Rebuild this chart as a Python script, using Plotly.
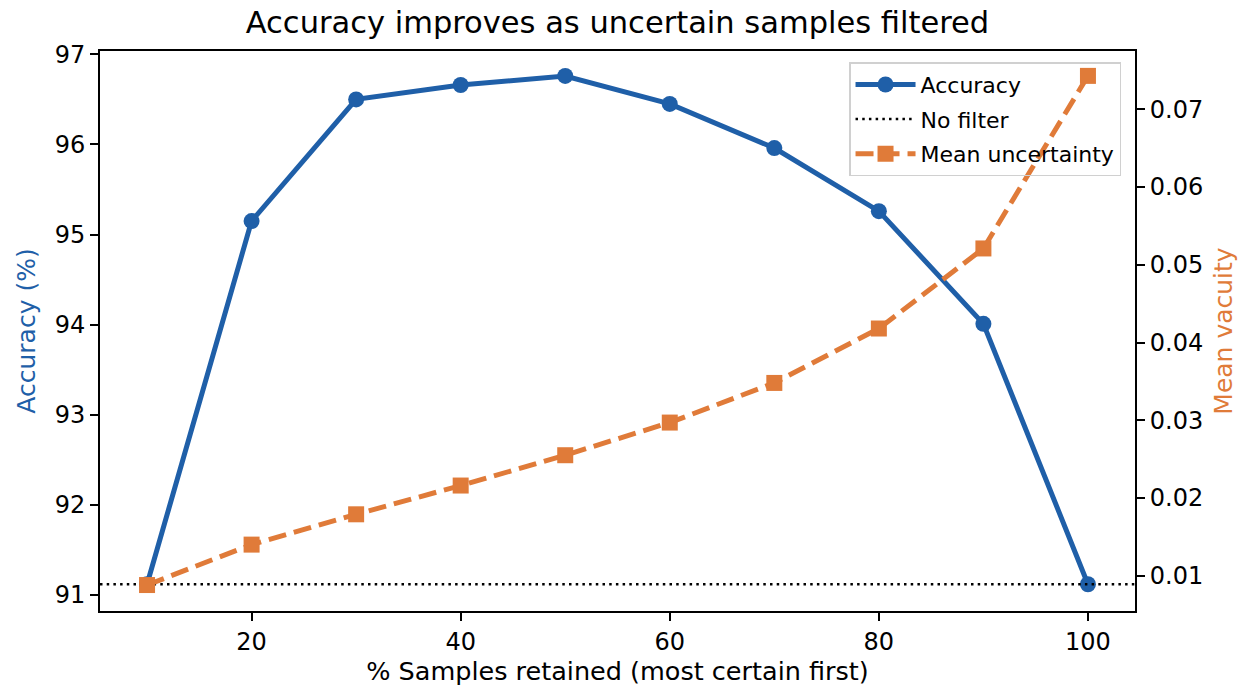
import plotly.graph_objects as go

retained = [10, 20, 30, 40, 50, 60, 70, 80, 90, 100]
accuracy = [91.12, 95.15, 96.50, 96.66, 96.76, 96.45, 95.96, 95.26, 94.01, 91.12]
uncertainty = [0.0088, 0.0140, 0.0179, 0.0216, 0.0255, 0.0297, 0.0348, 0.0418, 0.0521, 0.0743]
no_filter = 91.12

BLUE = "#1f5fa8"
ORANGE = "#e07b39"
FONT = "DejaVu Sans"

fig = go.Figure()
fig.add_trace(go.Scatter(
    x=retained, y=accuracy, mode="lines+markers", name="Accuracy", legendgroup="a",
    line=dict(color=BLUE, width=5), marker=dict(color=BLUE, size=16, symbol="circle"),
    yaxis="y"))
fig.add_trace(go.Scatter(
    x=[5.5, 104.5], y=[no_filter, no_filter], mode="lines", name="No filter", legendgroup="b",
    line=dict(color="black", width=2.5, dash="2.5px,4.2px"), yaxis="y"))
fig.add_trace(go.Scatter(
    x=retained, y=uncertainty, mode="lines+markers", name="Mean uncertainty", legendgroup="c",
    line=dict(color=ORANGE, width=5, dash="18px,8px"),
    marker=dict(color=ORANGE, size=16, symbol="square"),
    yaxis="y2"))

fig.update_layout(
    width=1246, height=686,
    margin=dict(l=100, r=111, t=51, b=75),
    plot_bgcolor="white", paper_bgcolor="white",
    font=dict(family=FONT, size=24, color="black"),
    title=dict(text="Accuracy improves as uncertain samples filtered",
               x=(100 + 1135) / 2 / 1246, xanchor="center",
               y=1 - 22 / 686, yanchor="middle",
               font=dict(family=FONT, size=30.5, color="black")),
    xaxis=dict(range=[5.5, 104.5], tickvals=[20, 40, 60, 80, 100], automargin=False,
               showline=True, linecolor="black", linewidth=2, mirror=True,
               ticks="outside", ticklen=8, tickwidth=2, tickcolor="black",
               showgrid=False, zeroline=False,
               title=dict(text="% Samples retained (most certain first)", standoff=6,
                          font=dict(size=25.5))),
    yaxis=dict(range=[90.823, 97.037], tickvals=[91, 92, 93, 94, 95, 96, 97], automargin=False,
               showline=True, linecolor="black", linewidth=2,
               ticks="outside", ticklen=8, tickwidth=2, tickcolor="black",
               showgrid=False, zeroline=False,
               title=dict(text="Accuracy (%)", standoff=12, font=dict(color=BLUE, size=25))),
    yaxis2=dict(range=[0.00546, 0.0775], overlaying="y", side="right", automargin=False,
                tickvals=[0.01, 0.02, 0.03, 0.04, 0.05, 0.06, 0.07],
                ticktext=["0.01", "0.02", "0.03", "0.04", "0.05", "0.06", "0.07"],
                showline=True, linecolor="black", linewidth=2,
                ticks="outside", ticklen=8, tickwidth=2, tickcolor="black",
                showgrid=False, zeroline=False,
                title=dict(text="Mean vacuity", standoff=12, font=dict(color=ORANGE, size=25))),
    legend=dict(x=0.9865, y=0.98, xanchor="right", yanchor="top",
                bgcolor="rgba(255,255,255,0)", bordercolor="#d0d0d0", borderwidth=1.5,
                font=dict(family=FONT, size=22, color="black"),
                traceorder="grouped", tracegroupgap=3, itemwidth=60),
    showlegend=True,
)

fig.write_html("out.html")
